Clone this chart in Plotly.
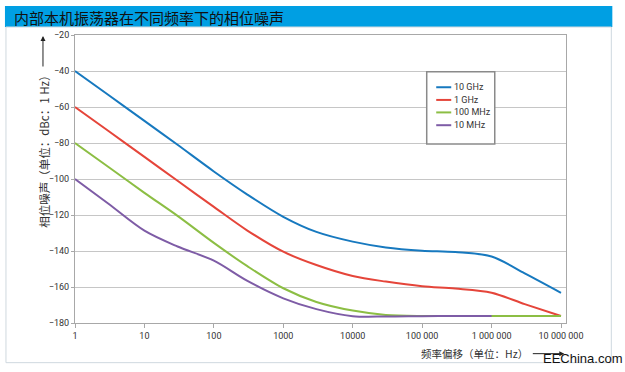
import plotly.graph_objects as go

# ---------------- data ----------------
freq_hz = [1, 3, 10, 30, 100, 300, 1e3, 3e3, 1e4, 3e4, 1e5, 3e5, 1e6, 3e6, 1e7]
noise_10ghz = [-40, -53.2, -67.7, -81, -95.8, -108.5, -121, -129.4, -134.8, -138, -139.8, -140.6, -143.1, -152.4, -163.2]
noise_1ghz = [-60, -73.2, -87.7, -101, -115.5, -128.5, -140.4, -147.8, -153.9, -157, -159.6, -160.9, -163.2, -169.5, -176.1]
noise_100mhz = [-80, -93.2, -107.7, -120.5, -135.5, -148.3, -160.7, -168.3, -173.1, -175.5, -176.1, -176.1, -176.1, -176.1, -176.1]
noise_10mhz = [-100, -113.6, -128.7, -137.5, -145.4, -156.5, -166.3, -172.3, -176.2, -176.4, -176.2, -176.1, -176.1]

series_names = ["10 GHz", "1 GHz", "100 MHz", "10 MHz"]
series_values = [noise_10ghz, noise_1ghz, noise_100mhz, noise_10mhz]
series_colors = ["#1779BF", "#E5453A", "#8CBE44", "#7E5CA6"]

x_tickvals = [1, 10, 100, 1000, 10000, 100000, 1000000, 10000000]
x_ticktext = ["1", "10", "100", "1000", "10000", "100 000", "1 000 000", "10 000 000"]
y_tickvals = [-20, -40, -60, -80, -100, -120, -140, -160, -180]

title_text = "内部本机振荡器在不同频率下的相位噪声"
y_label = "相位噪声（单位：dBc：1 Hz）"
x_label = "频率偏移（单位：Hz）"
watermark = "EEChina.com"

# ---------------- layout geometry (pixels) ----------------
W, H = 625, 372
PL, PR, PT, PB = 75, 565.7, 35, 323.3


def px(X):
    return (X - PL) / (PR - PL)


def py(Y):
    return (PB - Y) / (PB - PT)


CJK = "Noto Sans CJK SC, sans-serif"
NARROW = "Liberation Sans Narrow, Arial Narrow, Roboto, sans-serif"

fig = go.Figure()
for name, vals, col in zip(series_names, series_values, series_colors):
    fig.add_trace(go.Scatter(
        x=freq_hz[:len(vals)], y=vals, mode="lines", name=name,
        line=dict(color=col, width=2, shape="spline", smoothing=0.9),
        showlegend=False,
    ))

shapes = [
    # title bar
    dict(type="rect", xref="paper", yref="paper", x0=px(5), x1=px(612), y0=py(27), y1=py(6),
         fillcolor="#009FE3", line=dict(width=0), layer="below"),
    # outer frame
    dict(type="rect", xref="paper", yref="paper", x0=px(6), x1=px(611), y0=py(363), y1=py(27),
         fillcolor="rgba(0,0,0,0)", line=dict(color="#cfd8df", width=1), layer="below"),
    # legend box
    dict(type="rect", xref="paper", yref="paper", x0=px(426.5), x1=px(494.5), y0=py(144), y1=py(71.7),
         fillcolor="white", line=dict(color="#8a8a8a", width=1.5), layer="above"),
]

annotations = [
    dict(text=title_text, xref="paper", yref="paper", x=px(12), y=py(17), xanchor="left", yanchor="middle",
         showarrow=False, font=dict(family=CJK, size=15, color="#111")),
    dict(text=y_label, xref="paper", yref="paper", x=px(44), y=py(149), textangle=-90,
         xanchor="center", yanchor="middle", showarrow=False, font=dict(family=CJK, size=11.5, color="#333")),
    dict(text="", xref="paper", yref="paper", x=px(43), y=py(36), ax=0, ay=32,
         showarrow=True, arrowhead=2, arrowsize=1, arrowwidth=1, arrowcolor="#222"),
    dict(text=x_label, xref="paper", yref="paper", x=px(474), y=py(354),
         xanchor="center", yanchor="middle", showarrow=False, font=dict(family=CJK, size=10.5, color="#333")),
    dict(text="", xref="paper", yref="paper", x=px(564), y=py(354), ax=-33, ay=0,
         showarrow=True, arrowhead=2, arrowsize=1, arrowwidth=1, arrowcolor="#222"),
    dict(text=watermark, xref="paper", yref="paper", x=px(541), y=py(359), xanchor="left", yanchor="middle",
         showarrow=False, font=dict(family="Liberation Sans, Arial, sans-serif", size=13, color="#111")),
]

# manual compact legend built from the series lists
leg_y = [87.3, 100, 112.5, 125.3]
for name, col, Y in zip(series_names, series_colors, leg_y):
    shapes.append(dict(type="line", xref="paper", yref="paper", x0=px(436), x1=px(451), y0=py(Y), y1=py(Y),
                       line=dict(color=col, width=2), layer="above"))
    annotations.append(dict(text=name, xref="paper", yref="paper", x=px(452), y=py(Y), xanchor="left",
                            yanchor="middle", showarrow=False, font=dict(family=NARROW, size=9, color="#333")))

fig.update_layout(
    width=W, height=H,
    margin=dict(l=PL, r=W - PR, t=PT, b=H - PB, pad=0),
    paper_bgcolor="white", plot_bgcolor="white",
    shapes=shapes, annotations=annotations,
    showlegend=False,
)
fig.update_xaxes(
    type="log", range=[0, 7.072], tickvals=x_tickvals, ticktext=x_ticktext,
    showgrid=False, showline=True, linecolor="#a8a8a8", linewidth=1, mirror=True,
    ticks="outside", ticklen=4, tickcolor="#a8a8a8",
    tickfont=dict(family=NARROW, size=9, color="#333"), zeroline=False,
)
fig.update_yaxes(
    range=[-180, -20], tickvals=y_tickvals,
    showgrid=True, gridcolor="#c6c6c6", gridwidth=1,
    showline=True, linecolor="#a8a8a8", linewidth=1, mirror=True,
    ticks="outside", ticklen=3, tickcolor="#a8a8a8",
    tickfont=dict(family=NARROW, size=9, color="#333"), zeroline=False,
)

fig.write_html(
    "out.html",
    config={"displayModeBar": False},
    post_script="document.body.style.margin='0';document.body.style.overflow='hidden';",
)
